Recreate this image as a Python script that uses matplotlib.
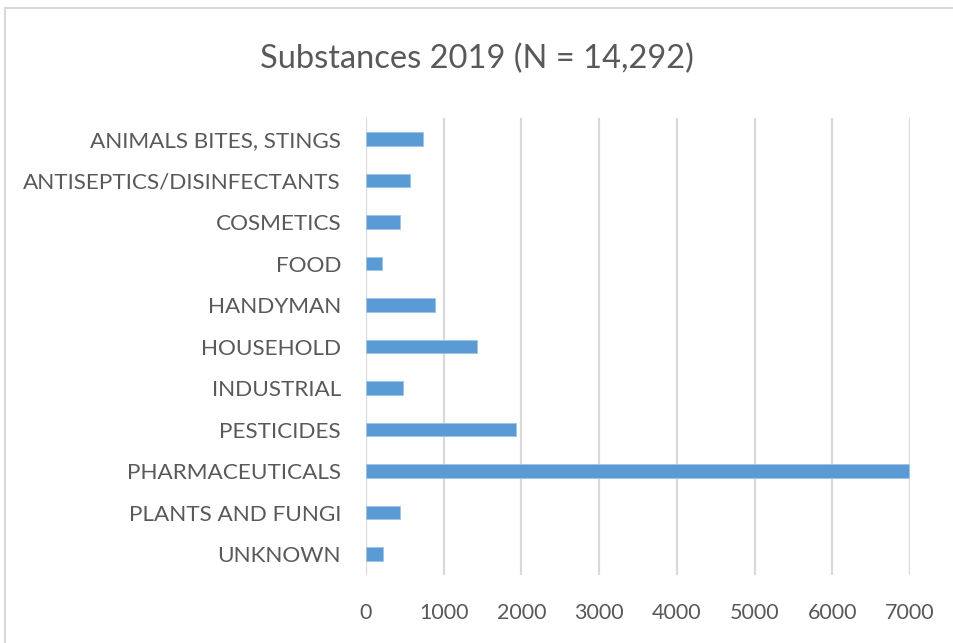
import matplotlib
matplotlib.use('Agg')
import matplotlib.pyplot as plt
from matplotlib.patches import Rectangle

# data
categories = ['ANIMALS BITES, STINGS', 'ANTISEPTICS/DISINFECTANTS', 'COSMETICS', 'FOOD',
              'HANDYMAN', 'HOUSEHOLD', 'INDUSTRIAL', 'PESTICIDES', 'PHARMACEUTICALS',
              'PLANTS AND FUNGI', 'UNKNOWN']
counts = [730, 570, 435, 205, 885, 1425, 470, 1935, 6990, 435, 220]
xticks = [0, 1000, 2000, 3000, 4000, 5000, 6000, 7000]

TEXT = '#595959'
BAR = '#5B9BD5'
GRID = '#D9D9D9'

plt.rcParams['font.family'] = ['Lato', 'DejaVu Sans']

fig = plt.figure(figsize=(9.54, 6.43), dpi=100)
ax = fig.add_axes([0.3837, 0.106, 0.954 - 0.3837, 0.71])

ypos = list(range(len(categories)))
ax.barh(ypos, counts, height=0.33, color=BAR, edgecolor='#9DC3E6', linewidth=0.6, zorder=3)
ax.set_ylim(len(categories) - 0.5, -0.5)
ax.set_yticks(ypos)
ax.set_yticklabels(categories, fontsize=16.2, color=TEXT)
ax.set_xlim(0, 7000)
ax.set_xticks(xticks)
ax.set_xticklabels([str(t) for t in xticks], fontsize=15.5, color=TEXT)
ax.tick_params(length=0, pad=20, axis='x')
ax.tick_params(length=0, pad=18, axis='y')
ax.grid(axis='x', color=GRID, linewidth=1.6, zorder=0)
ax.grid(axis='y', visible=False)
for s in ax.spines.values():
    s.set_visible(False)

fig.text(0.5, 0.908, 'Substances 2019 (N = 14,292)', ha='center', va='center',
         fontsize=23.5, color=TEXT)

fig.patches.append(Rectangle((0.005, -0.01), 1.0, 0.998, transform=fig.transFigure,
                             fill=False, edgecolor='#D9D9D9', linewidth=1.5))

fig.savefig('out.png', dpi=100)
